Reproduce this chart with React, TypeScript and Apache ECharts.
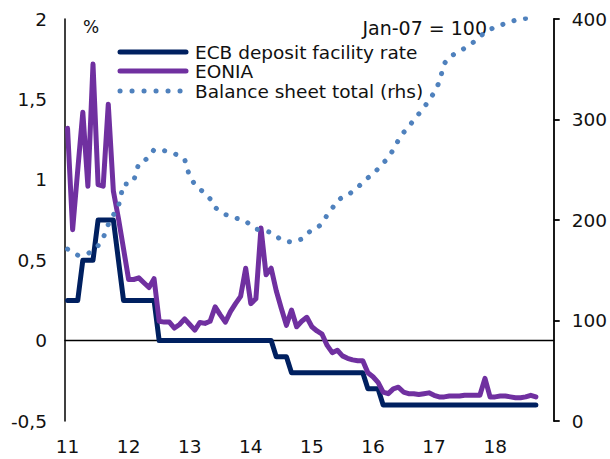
import React, { useEffect, useRef } from "react";
import * as echarts from "echarts";

// Monthly observations from Jan 2011 (x = 11) to Sep 2018
const startYear = 11;

const depositRate: number[] = [
  0.25, 0.25, 0.25, 0.5, 0.5, 0.5, 0.75, 0.75, 0.75, 0.75,
  0.5, 0.25, 0.25, 0.25, 0.25, 0.25, 0.25, 0.25, 0, 0,
  0, 0, 0, 0, 0, 0, 0, 0, 0, 0,
  0, 0, 0, 0, 0, 0, 0, 0, 0, 0,
  0, -0.1, -0.1, -0.1, -0.2, -0.2, -0.2, -0.2, -0.2, -0.2,
  -0.2, -0.2, -0.2, -0.2, -0.2, -0.2, -0.2, -0.2, -0.2, -0.3,
  -0.3, -0.3, -0.4, -0.4, -0.4, -0.4, -0.4, -0.4, -0.4, -0.4,
  -0.4, -0.4, -0.4, -0.4, -0.4, -0.4, -0.4, -0.4, -0.4, -0.4,
  -0.4, -0.4, -0.4, -0.4, -0.4, -0.4, -0.4, -0.4, -0.4, -0.4,
  -0.4, -0.4, -0.4,
];

const eonia: number[] = [
  1.32, 0.69, 1.06, 1.42, 0.96, 1.72, 0.97, 0.96, 1.47, 0.93,
  0.76, 0.57, 0.38, 0.38, 0.39, 0.36, 0.33, 0.385, 0.12, 0.115,
  0.115, 0.078, 0.1, 0.135, 0.1, 0.065, 0.113, 0.107, 0.12, 0.21,
  0.16, 0.115, 0.18, 0.23, 0.275, 0.45, 0.23, 0.26, 0.7, 0.41,
  0.45, 0.31, 0.2, 0.095, 0.19, 0.086, 0.12, 0.145, 0.086, 0.06,
  0.04, -0.03, -0.075, -0.06, -0.095, -0.11, -0.12, -0.125, -0.125, -0.2,
  -0.225, -0.26, -0.32, -0.33, -0.3, -0.29, -0.32, -0.33, -0.33, -0.335,
  -0.33, -0.325, -0.34, -0.35, -0.35, -0.345, -0.345, -0.345, -0.34, -0.34,
  -0.34, -0.34, -0.235, -0.35, -0.35, -0.345, -0.345, -0.35, -0.355, -0.355,
  -0.35, -0.34, -0.35,
];

const balanceSheet: number[] = [
  171, 168, 165, 165.5, 166.5, 170, 174.5, 182, 195.5, 205,
  213.5, 236, 235.5, 239, 256.5, 258.5, 263, 270, 269.5, 269,
  267.5, 266, 263.5, 260.5, 243, 235.5, 230.5, 227, 221, 212.5,
  208.5, 205.5, 203.5, 202, 200.5, 199, 194.5, 191, 190, 189,
  187.5, 184, 180, 179, 178, 179.5, 181, 186, 190.3, 192,
  196.5, 205, 211.6, 219.5, 222.5, 224.5, 228.5, 232.5, 237.5, 242,
  245.5, 251, 256.5, 262, 270, 279.5, 287, 292.5, 299.5, 305.5,
  311.5, 319.5, 326.5, 337, 355.5, 362.5, 365, 367.5, 371, 374,
  378, 382.5, 386.5, 389.5, 392, 393.8, 395.5, 397.2, 398.8, 400,
  400.5, 401, 401,
];

const yearLabels: number[] = [11, 12, 13, 14, 15, 16, 17, 18];
const seriesNames = ["ECB deposit facility rate", "EONIA", "Balance sheet total (rhs)"];

const NAVY = "#002060";
const PURPLE = "#7030A0";
const DOTS = "#4F81BD";
const FONT = "DejaVu Sans";
const TEXT = "#111111";
const FS = 18.5;

const toPairs = (vals: number[]) => vals.map((v, i) => [startYear + i / 12, v]);

export default function App() {
  const ref = useRef<HTMLDivElement>(null);

  useEffect(() => {
    if (!ref.current) return;
    const chart = echarts.init(ref.current, undefined, { renderer: "svg" });
    const xMin = 11 - 1 / 24;
    const xMax = 19 - 1 / 24;
    chart.setOption({
      animation: false,
      backgroundColor: "#ffffff",
      grid: { left: 65, right: 53, top: 19, bottom: 38, containLabel: false },
      xAxis: [
        {
          type: "value",
          min: xMin,
          max: xMax,
          axisLine: { show: false },
          axisTick: { show: false },
          splitLine: { show: false },
          axisLabel: {
            customValues: yearLabels,
            margin: 16,
            fontFamily: FONT,
            fontSize: FS,
            color: TEXT,
            formatter: (v: number) => String(Math.round(v)),
          },
        },
        {
          type: "value",
          min: xMin,
          max: xMax,
          position: "bottom",
          axisLine: { show: true, onZero: true, onZeroAxisIndex: 0, lineStyle: { color: "#000", width: 1.3 } },
          axisTick: { show: false },
          axisLabel: { show: false },
          splitLine: { show: false },
        },
      ],
      yAxis: [
        {
          type: "value",
          min: -0.5,
          max: 2,
          interval: 0.5,
          position: "left",
          axisLine: { show: true, onZero: false, lineStyle: { color: "#000", width: 1.5 } },
          axisTick: { show: false },
          splitLine: { show: false },
          axisLabel: {
            margin: 18,
            fontFamily: FONT,
            fontSize: FS,
            color: TEXT,
            formatter: (v: number) => String(v).replace(".", ","),
          },
        },
        {
          type: "value",
          min: 0,
          max: 400,
          interval: 100,
          position: "right",
          axisLine: { show: true, onZero: false, lineStyle: { color: "#000", width: 1.8 } },
          axisTick: { show: true, length: 6, lineStyle: { color: "#000", width: 1.8 } },
          splitLine: { show: false },
          axisLabel: {
            margin: 18,
            fontFamily: FONT,
            fontSize: FS,
            color: TEXT,
          },
        },
      ],
      series: [
        {
          name: seriesNames[0],
          type: "line",
          xAxisIndex: 0,
          yAxisIndex: 0,
          data: toPairs(depositRate),
          showSymbol: false,
          symbol: "none",
          lineStyle: { color: NAVY, width: 5, join: "round", cap: "round" },
          z: 2,
        },
        {
          name: seriesNames[1],
          type: "line",
          xAxisIndex: 0,
          yAxisIndex: 0,
          data: toPairs(eonia),
          showSymbol: false,
          symbol: "none",
          lineStyle: { color: PURPLE, width: 5, join: "round", cap: "round" },
          z: 3,
        },
        {
          name: seriesNames[2],
          type: "line",
          xAxisIndex: 0,
          yAxisIndex: 1,
          data: toPairs(balanceSheet),
          showSymbol: false,
          symbol: "none",
          lineStyle: { color: DOTS, width: 5, type: [0.1, 11.6], cap: "round", join: "round" },
          z: 4,
        },
      ],
      graphic: [
        {
          type: "text",
          left: 83,
          top: 18,
          style: { text: "%", fontFamily: FONT, fontSize: 17, fill: TEXT },
        },
        {
          type: "text",
          x: 487,
          y: 28,
          style: {
            text: "Jan-07 = 100",
            fontFamily: FONT,
            fontSize: 19,
            fill: TEXT,
            align: "right",
            verticalAlign: "middle",
          },
        },
        {
          type: "line",
          shape: { x1: 120, y1: 52, x2: 186, y2: 52 },
          style: { stroke: NAVY, lineWidth: 5, lineCap: "round" },
        },
        {
          type: "line",
          shape: { x1: 120, y1: 71, x2: 186, y2: 71 },
          style: { stroke: PURPLE, lineWidth: 5, lineCap: "round" },
        },
        {
          type: "line",
          shape: { x1: 120, y1: 91, x2: 186, y2: 91 },
          style: { stroke: DOTS, lineWidth: 5, lineCap: "round", lineDash: [0.1, 11.9] },
        },
        {
          type: "text",
          x: 195,
          y: 52,
          style: { text: seriesNames[0], fontFamily: FONT, fontSize: FS, fill: TEXT, verticalAlign: "middle" },
        },
        {
          type: "text",
          x: 195,
          y: 71,
          style: { text: seriesNames[1], fontFamily: FONT, fontSize: FS, fill: TEXT, verticalAlign: "middle" },
        },
        {
          type: "text",
          x: 195,
          y: 91,
          style: { text: seriesNames[2], fontFamily: FONT, fontSize: FS, fill: TEXT, verticalAlign: "middle" },
        },
      ],
    });
    return () => chart.dispose();
  }, []);

  return (
    <div
      ref={ref}
      style={{ position: "fixed", left: 0, top: 0, width: 610, height: 459, background: "#fff" }}
    />
  );
}
